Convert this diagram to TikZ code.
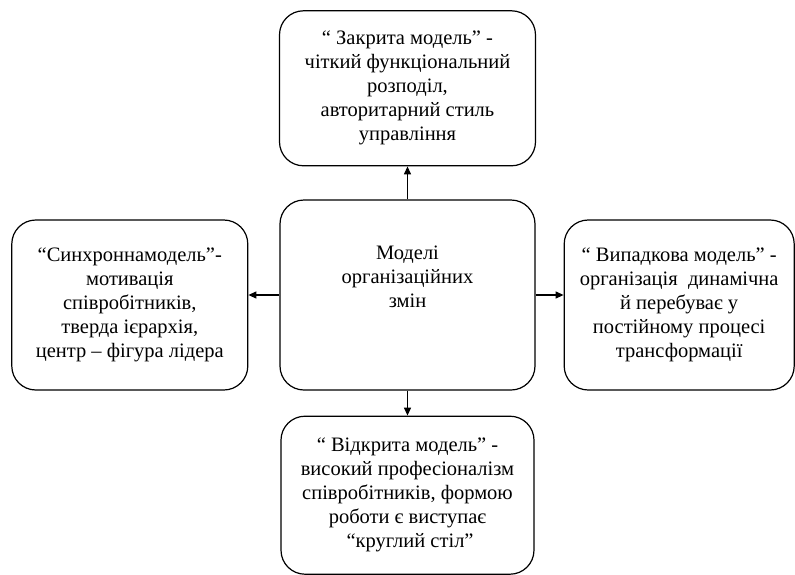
\documentclass[tikz,border=0pt]{standalone}
\usepackage{fontspec}
\setmainfont{Liberation Serif}
\usepackage{tikz}
\usetikzlibrary{arrows.meta, positioning}

\begin{document}
\begin{tikzpicture}[node distance=30pt, every node/.style={align=center},
  modelbox/.style={draw, line width=1.2pt, rounded corners=24pt, inner sep=0pt,
    font=\fontsize{20.5pt}{24pt}\selectfont},
  linkarrow/.style={-{Triangle[length=8pt,width=7pt]}, line width=1.2pt}]
% Frame
\useasboundingbox (-407.5pt,295pt) rectangle (387.5pt,-279pt);

% Base nodes
\node (Models) [modelbox, minimum width=255pt, minimum height=190pt, text depth=36pt]
  {Моделі\\організаційних\\змін};
\node (Closed) [above=33pt of Models, modelbox, minimum width=256pt, minimum height=155pt]
  {“ Закрита модель” -\\чіткий функціональний\\розподіл,\\авторитарний стиль\\управління};
\node (Sync) [left=31pt of Models, yshift=-10pt, modelbox, minimum width=236pt, minimum height=170pt]
  {“Синхроннамодель”-\\мотивація\\співробітників,\\тверда ієрархія,\\центр – фігура лідера};
\node (Random) [right=28pt of Models, yshift=-10pt, modelbox, minimum width=230pt, minimum height=170pt]
  {“ Випадкова модель” -\\організація\ \ динамічна\\й перебуває у\\постійному процесі\\трансформації};
\node (Open) [below=25pt of Models, modelbox, minimum width=253pt, minimum height=158pt]
  {“ Відкрита модель” -\\високий професіоналізм\\співробітників, формою\\роботи є виступає\\\ “круглий стіл”};

% Arrows
\draw[linkarrow] (Models.north) -- (Closed.south);
\draw[linkarrow] (Models.south) -- (Models.south |- Open.north);
\draw[linkarrow] (Models.west) -- (Models.west -| Sync.east);
\draw[linkarrow] (Models.east) -- (Models.east -| Random.west);
\end{tikzpicture}
\end{document}
